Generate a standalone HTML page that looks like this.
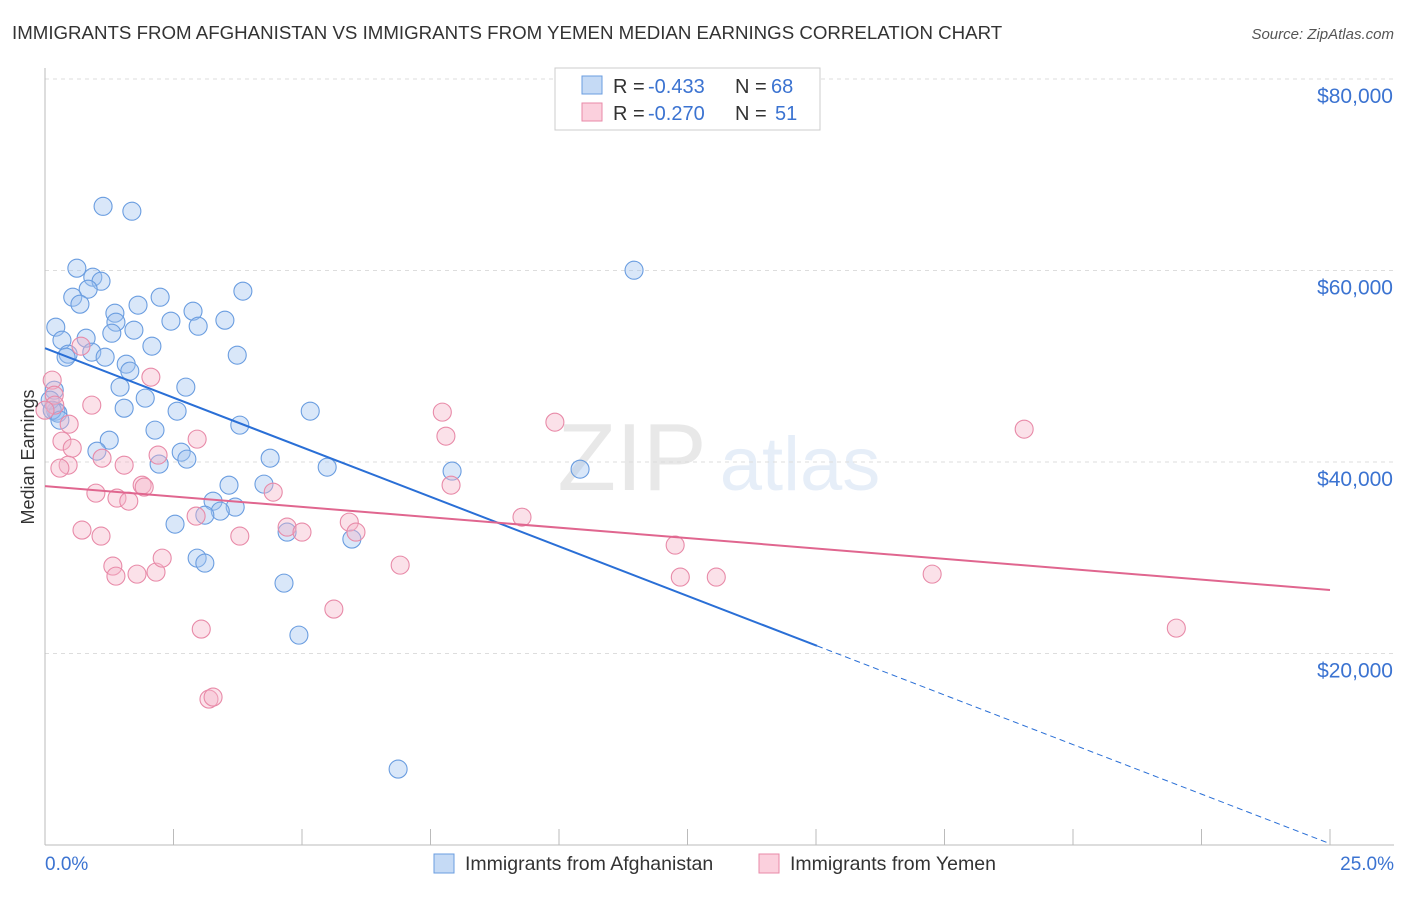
<!DOCTYPE html>
<html><head><meta charset="utf-8"><style>
body{margin:0;background:#fff;font-family:"Liberation Sans",sans-serif}
svg text{font-family:"Liberation Sans",sans-serif}
</style></head><body>
<svg id="chart" width="1406" height="892" viewBox="0 0 1406 892" xmlns="http://www.w3.org/2000/svg">
<text x="12" y="39" font-size="18.7" fill="#333">IMMIGRANTS FROM AFGHANISTAN VS IMMIGRANTS FROM YEMEN MEDIAN EARNINGS CORRELATION CHART</text>
<text x="1394" y="39" font-size="15" fill="#555" font-style="italic" text-anchor="end">Source: ZipAtlas.com</text>
<g opacity="0.13">
<text x="632" y="490" font-size="96" font-family="Liberation Serif" fill="#555" text-anchor="middle">ZIP</text>
<text x="800" y="490" font-size="76" fill="#4a7fd0" text-anchor="middle">atlas</text>
</g>
<g id="grid"></g>
<g id="axes"></g>
<g id="pts"></g>
<g id="trends"></g>
<text transform="translate(34,457) rotate(-90)" font-size="18" fill="#333" text-anchor="middle">Median Earnings</text>
<text x="45" y="870" font-size="19" fill="#3b73d1">0.0%</text>
<text x="1394" y="870" font-size="19" fill="#3b73d1" text-anchor="end">25.0%</text>
<g>
<rect x="555" y="68" width="265" height="62" fill="#fff" stroke="#ccc"/>
<rect x="582" y="76" width="20" height="18" fill="#c5daf5" stroke="#6a9de0"/>
<rect x="582" y="103" width="20" height="18" fill="#fbd0dd" stroke="#e88aa8"/>
<text x="613" y="93" font-size="20" fill="#333">R =</text>
<text x="648" y="93" font-size="20" fill="#3b73d1">-0.433</text>
<text x="735" y="93" font-size="20" fill="#333">N =</text>
<text x="771" y="93" font-size="20" fill="#3b73d1">68</text>
<text x="613" y="120" font-size="20" fill="#333">R =</text>
<text x="648" y="120" font-size="20" fill="#3b73d1">-0.270</text>
<text x="735" y="120" font-size="20" fill="#333">N =</text>
<text x="775" y="120" font-size="20" fill="#3b73d1">51</text>
</g>
<g>
<rect x="434" y="854" width="20" height="19" fill="#c5daf5" stroke="#6a9de0"/>
<text x="465" y="870" font-size="19.5" fill="#333">Immigrants from Afghanistan</text>
<rect x="759" y="854" width="20" height="19" fill="#fbd0dd" stroke="#e88aa8"/>
<text x="790" y="870" font-size="19.5" fill="#333">Immigrants from Yemen</text>
</g>
</svg>
<script>
const blueX=[1.13,1.69,0.62,0.93,1.09,0.84,0.54,0.68,2.24,1.81,3.85,0.21,1.36,1.38,2.45,2.88,2.98,3.50,0.33,0.80,1.30,1.73,2.08,3.74,0.45,0.41,0.91,1.17,1.58,1.65,0.18,1.46,2.74,1.95,1.54,2.57,0.21,0.25,2.14,3.79,5.16,1.25,1.01,2.65,2.22,2.76,4.38,5.49,7.92,10.41,11.46,3.58,3.27,4.26,3.70,3.41,3.11,2.53,4.71,5.97,2.96,3.11,4.65,4.94,6.87,0.10,0.14,0.29];
const blueY=[66700,66190,60240,59300,58880,58050,57210,56480,57210,56380,57840,54080,55540,54600,54710,55750,54180,54810,52720,52930,53450,53770,52100,51160,51260,50950,51470,50950,50220,49490,47500,47820,47820,46670,45620,45310,45310,45100,43330,43850,45310,42280,41130,41030,39780,40300,40400,39460,39050,39250,60030,37580,35910,37690,35290,34870,34450,33510,32680,31950,29960,29440,27350,21920,7930,46460,45410,44370];
const pinkX=[0.14,0.18,0.19,0.33,0.53,0.47,0.91,0.70,2.06,0.45,1.11,1.54,0.99,1.40,1.63,1.89,1.93,2.20,2.96,0.72,1.09,1.32,1.38,1.79,2.16,2.28,2.94,3.79,4.44,4.71,5.00,5.92,6.05,6.91,5.62,3.04,3.19,3.27,7.73,7.80,7.90,9.28,9.92,12.26,12.36,13.06,17.26,19.05,22.01,0.29,0.0];
const pinkY=[48550,46980,45940,42180,41450,43950,45940,52100,48860,39670,40400,39670,36750,36230,35910,37580,37380,40720,42390,32890,32260,29130,28080,28290,28500,29960,34350,32260,36850,33200,32680,33720,32680,29230,24640,22550,15240,15450,45210,42700,37580,34240,44160,31320,27980,27980,28290,43430,22650,39360,45410];
const yTicks=[20000,40000,60000,80000];
const yTickLabels=["$20,000","$40,000","$60,000","$80,000"];
const xTicks=[2.5,5,7.5,10,12.5,15,17.5,20,22.5,25];
const blueTrend=[51890,-2070,15.02];
const pinkTrend=[37480,-434];
const X=v=>45+v*(1285/25);
const Y=v=>845-v*(191.5/20000);
const NS="http://www.w3.org/2000/svg";
function mk(tag,attrs,parent){const e=document.createElementNS(NS,tag);for(const k in attrs)e.setAttribute(k,attrs[k]);parent.appendChild(e);return e;}
const grid=document.getElementById('grid'),axes=document.getElementById('axes'),pts=document.getElementById('pts'),tr=document.getElementById('trends');
yTicks.forEach((t,i)=>{
 const l=mk('line',{x1:45,x2:1394,y1:Y(t),y2:Y(t),stroke:'#ddd','stroke-dasharray':'4,4'},grid);
 
 
 const tx=mk('text',{x:1393,y:Y(t)+24,'font-size':21,fill:'#3b73d1','text-anchor':'end'},grid);
 tx.textContent=yTickLabels[i];
 
 
});
const ax=mk('line',{x1:45,x2:45,y1:68,y2:845,stroke:'#bbb'},axes);


const bx=mk('line',{x1:45,x2:1394,y1:845,y2:845,stroke:'#bbb'},axes);


xTicks.forEach(t=>{
 const l=mk('line',{x1:X(t),x2:X(t),y1:829,y2:845,stroke:'#bbb'},axes);
 
 
});
blueX.forEach((x,i)=>{
 const c=mk('circle',{cx:X(x),cy:Y(blueY[i]),r:9,fill:'rgba(160,195,240,0.4)',stroke:'#6a9de0','stroke-width':1.1},pts);
 
 
});
pinkX.forEach((x,i)=>{
 const c=mk('circle',{cx:X(x),cy:Y(pinkY[i]),r:9,fill:'rgba(245,180,200,0.4)',stroke:'#e88aa8','stroke-width':1.1},pts);
 
 
});
const bs=mk('line',{x1:X(0),y1:Y(blueTrend[0]),x2:X(blueTrend[2]),y2:Y(blueTrend[0]+blueTrend[1]*blueTrend[2]),stroke:'#2a6fd6','stroke-width':2},tr);


const bd=mk('line',{x1:X(blueTrend[2]),y1:Y(blueTrend[0]+blueTrend[1]*blueTrend[2]),x2:X(25),y2:Y(blueTrend[0]+blueTrend[1]*25),stroke:'#2a6fd6','stroke-width':1,'stroke-dasharray':'6,4'},tr);


const pl=mk('line',{x1:X(0),y1:Y(pinkTrend[0]),x2:X(25),y2:Y(pinkTrend[0]+pinkTrend[1]*25),stroke:'#e0668f','stroke-width':2},tr);


</script>
</body></html>
